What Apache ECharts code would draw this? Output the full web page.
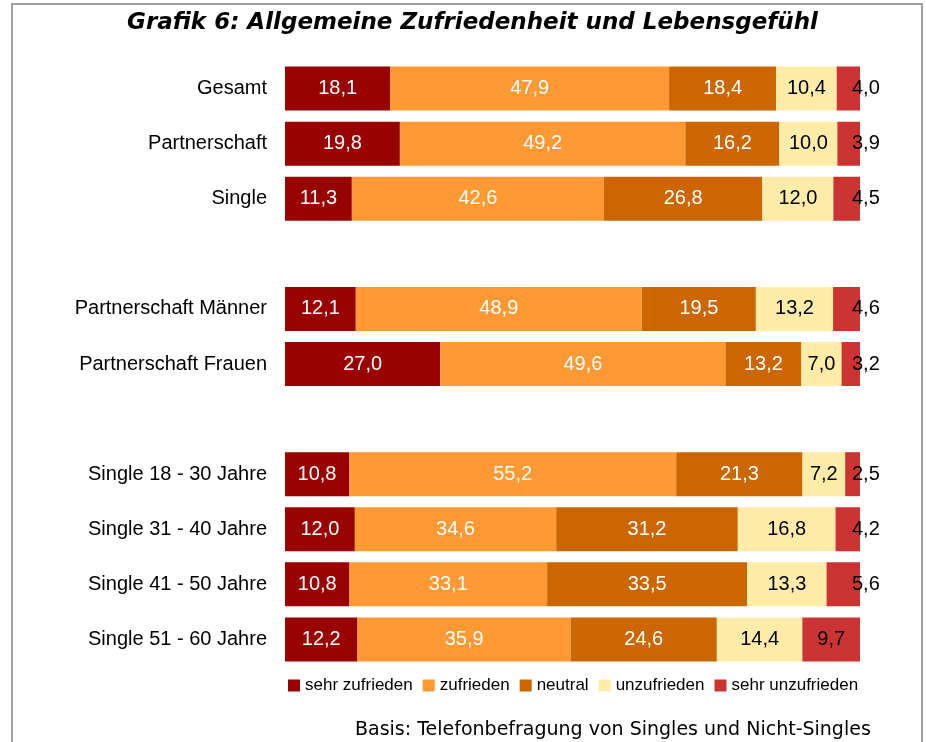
<!DOCTYPE html>
<html>
<head>
<meta charset="utf-8">
<script src="https://cdn.jsdelivr.net/npm/echarts@6/dist/echarts.min.js"></script>
<style>
  html, body { margin: 0; padding: 0; background: #fff; }
  #main { width: 926px; height: 742px; }
</style>
</head>
<body>
<div id="main"></div>
<script>
var categories = ['Gesamt', 'Partnerschaft', 'Single', ' ', 'Partnerschaft Männer', 'Partnerschaft Frauen', '  ',
  'Single 18 - 30 Jahre', 'Single 31 - 40 Jahre', 'Single 41 - 50 Jahre', 'Single 51 - 60 Jahre'];
var seriesNames = ['sehr zufrieden', 'zufrieden', 'neutral', 'unzufrieden', 'sehr unzufrieden'];
var sehrZufrieden   = [18.1, 19.8, 11.3, null, 12.1, 27.0, null, 10.8, 12.0, 10.8, 12.2];
var zufrieden       = [47.9, 49.2, 42.6, null, 48.9, 49.6, null, 55.2, 34.6, 33.1, 35.9];
var neutral         = [18.4, 16.2, 26.8, null, 19.5, 13.2, null, 21.3, 31.2, 33.5, 24.6];
var unzufrieden     = [10.4, 10.0, 12.0, null, 13.2, 7.0, null, 7.2, 16.8, 13.3, 14.4];
var sehrUnzufrieden = [4.0, 3.9, 4.5, null, 4.6, 3.2, null, 2.5, 4.2, 5.6, 9.7];

var raw = [sehrZufrieden, zufrieden, neutral, unzufrieden, sehrUnzufrieden];
var colors = ['#990000', '#FF9933', '#CC6600', '#FFECA8', '#CC3333'];
var labelColors = ['#fff', '#fff', '#fff', '#000', '#000'];

// Zeilensummen -> 100% gestapelt
var sums = categories.map(function (c, i) {
  var s = 0;
  raw.forEach(function (arr) { if (arr[i] != null) s += arr[i]; });
  return s;
});

function fmt(v) { return v.toFixed(1).replace('.', ','); }

var series = raw.map(function (arr, k) {
  var last = k === raw.length - 1;
  return {
    name: seriesNames[k],
    type: 'bar',
    stack: 'total',
    barWidth: 44,
    itemStyle: { color: colors[k] },
    label: {
      show: true,
      position: last ? 'right' : 'inside',
      distance: last ? -8 : 5,
      color: labelColors[k],
      fontFamily: 'Liberation Sans, Arial, sans-serif',
      fontSize: 20,
      formatter: function (p) { return fmt(arr[p.dataIndex]); }
    },
    data: arr.map(function (v, i) {
      if (v == null) return null;
      var item = { value: v / sums[i] * 100 };
      if (last && v > 8) item.label = { position: 'inside' };
      return item;
    })
  };
});

var myChart = echarts.init(document.getElementById('main'));
var option = {
  animation: false,
  title: [{
    text: 'Grafik 6: Allgemeine Zufriedenheit und Lebensgefühl',
    left: 122,
    top: 7,
    textStyle: { fontFamily: 'DejaVu Sans', fontSize: 23, fontWeight: 'bold', fontStyle: 'italic', color: '#000' }
  }, {
    text: 'Basis: Telefonbefragung von Singles und Nicht-Singles',
    left: 350,
    top: 716,
    textStyle: { fontFamily: 'DejaVu Sans', fontSize: 19, fontWeight: 'normal', color: '#000' }
  }],
  graphic: [{
    type: 'rect',
    shape: { x: 12, y: 4, width: 910, height: 800 },
    style: { fill: 'none', stroke: '#a0a0a0', lineWidth: 2 },
    silent: true
  }],
  legend: {
    left: 283,
    top: 672,
    itemWidth: 12,
    itemHeight: 12,
    itemGap: 10,
    icon: 'rect',
    data: seriesNames,
    textStyle: { fontFamily: 'Liberation Sans, Arial, sans-serif', fontSize: 17, color: '#000' }
  },
  grid: { left: 285, width: 575, top: 61, height: 606 },
  xAxis: {
    type: 'value',
    min: 0,
    max: 100,
    show: false
  },
  yAxis: {
    type: 'category',
    inverse: true,
    data: categories,
    axisLine: { show: false },
    axisTick: { show: false },
    splitLine: { show: false },
    axisLabel: {
      margin: 18,
      color: '#000',
      fontFamily: 'Liberation Sans, Arial, sans-serif',
      fontSize: 20
    }
  },
  series: series
};
myChart.setOption(option);
window.onresize = myChart.resize;
</script>
</body>
</html>
